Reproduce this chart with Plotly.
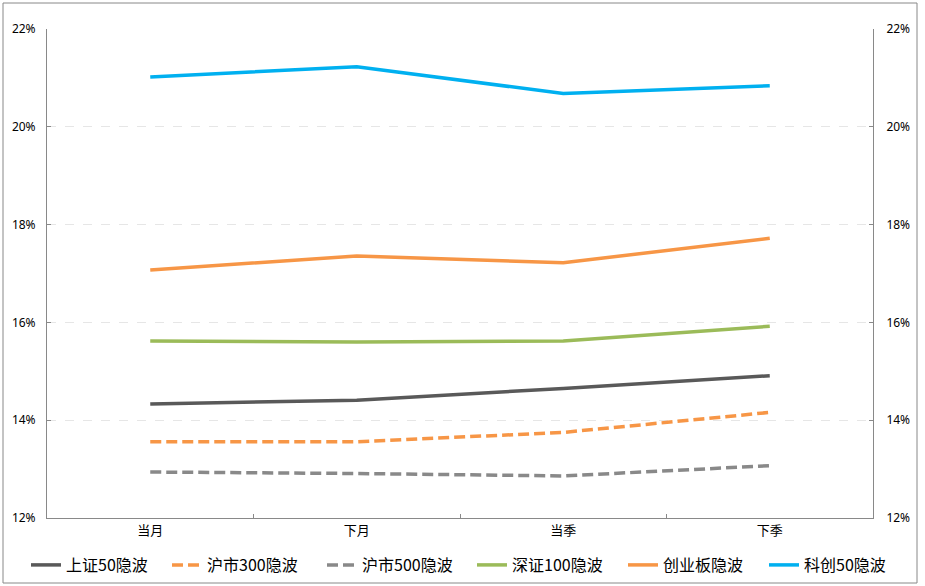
import plotly.graph_objects as go

categories = ["当月", "下月", "当季", "下季"]
sz50 = [14.33, 14.41, 14.65, 14.91]
hs300 = [13.56, 13.56, 13.75, 14.16]
hs500 = [12.94, 12.91, 12.86, 13.07]
szc100 = [15.62, 15.60, 15.62, 15.92]
cyb = [17.07, 17.36, 17.22, 17.72]
kc50 = [21.02, 21.23, 20.68, 20.84]
ytick_vals = [12, 14, 16, 18, 20, 22]
ytick_text = ["12%", "14%", "16%", "18%", "20%", "22%"]

series = [
    ("上证50隐波", sz50, "#595959", "solid"),
    ("沪市300隐波", hs300, "#F79646", "11px,5px"),
    ("沪市500隐波", hs500, "#898989", "11px,5px"),
    ("深证100隐波", szc100, "#9BBB59", "solid"),
    ("创业板隐波", cyb, "#F79646", "solid"),
    ("科创50隐波", kc50, "#00B0F0", "solid"),
]

W, H = 925, 586
PL, PR, PT, PB = 47, 873, 29, 518  # plot area in window pixels
pw, ph = PR - PL, PB - PT

legend_text_x = [71, 212, 367, 517, 668, 809]

fig = go.Figure()
for i, (name, vals, color, dash) in enumerate(series):
    fig.add_trace(go.Scatter(
        x=categories, y=vals, name=name, mode="lines",
        line=dict(color=color, width=3.5, dash=dash),
        legend="legend" if i == 0 else f"legend{i + 1}",
    ))
fig.add_trace(go.Scatter(x=categories, y=kc50, yaxis="y2", mode="lines",
                         line=dict(width=0), showlegend=False, hoverinfo="skip",
                         opacity=0))

axis_font = dict(family="Noto Sans, DejaVu Sans", size=12, color="#000000")
yax = dict(range=[12, 22], tickmode="array", tickvals=ytick_vals, ticktext=ytick_text,
           showgrid=True, gridcolor="#E6E6E6", griddash="dash", gridwidth=1,
           showline=True, linecolor="#898989", linewidth=1,
           ticks="inside", ticklen=4, tickcolor="#898989", ticklabelstandoff=8,
           tickfont=axis_font, zeroline=False, fixedrange=True)

legends = {}
for i, tx in enumerate(legend_text_x):
    key = "legend" if i == 0 else f"legend{i + 1}"
    legends[key] = dict(
        orientation="h", x=(tx - 45 - PL) / pw, xanchor="left",
        y=(PB - 565) / ph, yanchor="middle",
        font=dict(family="Noto Sans CJK SC", size=16, color="#000000"),
        bgcolor="rgba(0,0,0,0)",
    )

fig.update_layout(
    width=W, height=H,
    margin=dict(l=PL, r=W - PR, t=PT, b=H - PB, autoexpand=False),
    paper_bgcolor="white", plot_bgcolor="white",
    xaxis=dict(type="category", range=[-0.5, 3.5], showline=True, linecolor="#898989", linewidth=1,
               ticks="inside", ticklen=4, tickcolor="#898989", tickson="boundaries",
               showgrid=False, tickfont=dict(family="Noto Sans CJK SC", size=13, color="#000000")),
    yaxis=yax,
    yaxis2=dict(yax, overlaying="y", side="right", showgrid=False, ticklabelstandoff=10),
    shapes=[dict(type="rect", xref="paper", yref="paper",
                 x0=(3 - PL) / pw, x1=(917 - PL) / pw,
                 y0=(PB - 583) / ph, y1=(PB - 3) / ph,
                 line=dict(color="#888888", width=1), fillcolor="rgba(0,0,0,0)", layer="below")],
    showlegend=True,
    **legends,
)

fig.write_html("out.html", config={"displayModeBar": False},
               post_script="document.body.style.margin='0';document.body.style.overflow='hidden';")
